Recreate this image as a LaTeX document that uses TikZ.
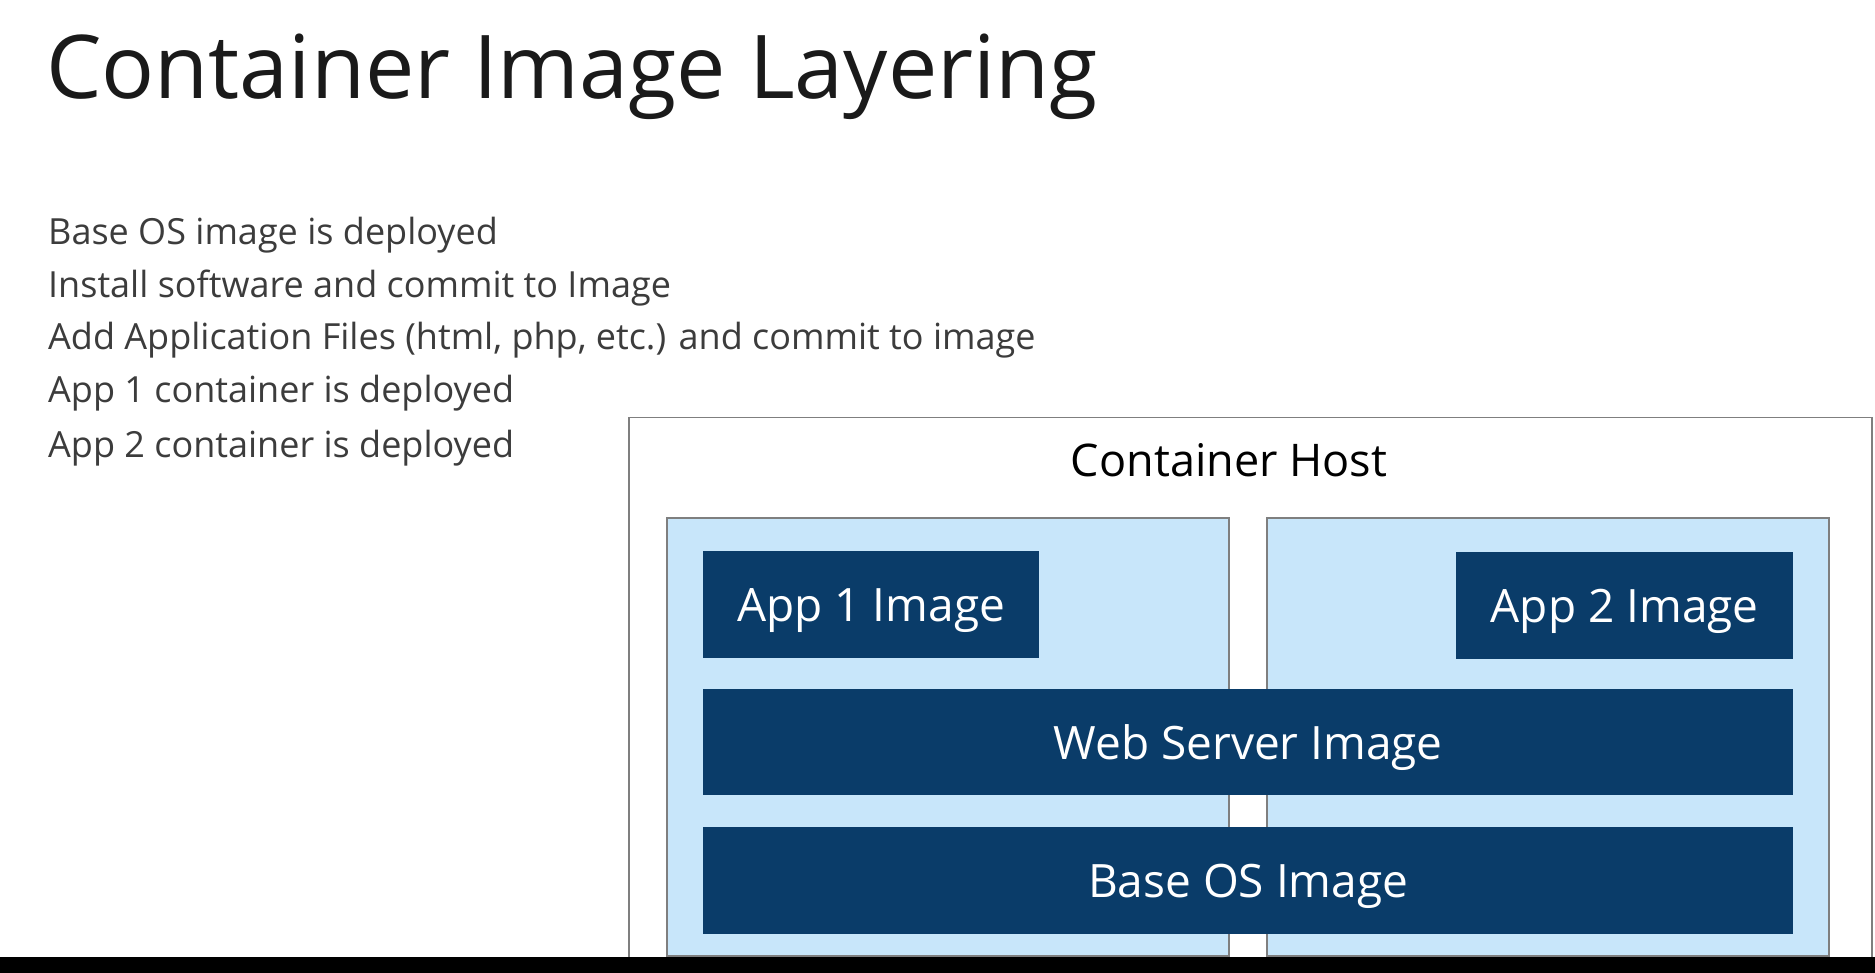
\documentclass[tikz,border=0pt]{standalone}
\usepackage{fontspec}
\setmainfont{Open Sans}
\definecolor{navy}{HTML}{0A3C69}
\definecolor{lightblue}{HTML}{C8E6FA}
\definecolor{panelborder}{HTML}{7F7F7F}
\definecolor{titlecol}{HTML}{1A1A1A}
\definecolor{bulletcol}{HTML}{3C3C3C}
\begin{document}
\begin{tikzpicture}[x=1pt,y=-1pt,
  hostbox/.style={draw=panelborder, line width=1.5pt, fill=white, anchor=north west, inner sep=0pt},
  panel/.style={draw=panelborder, line width=1.5pt, fill=lightblue, anchor=north west, inner sep=0pt},
  layer/.style={fill=navy, text=white, anchor=north west, inner sep=0pt, text depth=0pt, font=\fontsize{46}{52}\selectfont},
  bullet/.style={anchor=base west, inner sep=0pt, text=bulletcol, font=\fontsize{36}{42}\selectfont}
]
\useasboundingbox (0,0) rectangle (1875,973);
\fill[white] (0,0) rectangle (1875,973);
% title
\node[anchor=base west, inner sep=0pt, text=titlecol, font=\fontsize{88}{100}\selectfont] (title) at (46,99) {Container Image Layering};
% bullets
\node[bullet] (b1) at (48,245) {Base OS image is deployed};
\node[bullet] (b2) at (48,298) {Install software and commit to Image};
\node[bullet] (b3) at (48,350) {Add Application Files (html, php, etc.) and commit to image};
\node[bullet] (b4) at (48,403) {App 1 container is deployed};
\node[bullet] (b5) at (48,457) {App 2 container is deployed};
% container host
\node[hostbox, minimum width=1243pt, minimum height=560pt] (host) at (628,417) {};
\node[anchor=base, inner sep=0pt, text=black, font=\fontsize{45}{50}\selectfont] (hostlabel) at (1229,477) {Container Host};
% panels
\node[panel, minimum width=562pt, minimum height=438pt] (leftpanel) at (666,517) {};
\node[panel, minimum width=562pt, minimum height=438pt] (rightpanel) at (1266,517) {};
% layers
\node[layer, minimum width=336pt, minimum height=107pt] (app1) at (703,551) {App 1 Image};
\node[layer, minimum width=337pt, minimum height=107pt] (app2) at (1456,552) {App 2 Image};
\node[layer, minimum width=1090pt, minimum height=106pt] (web) at (703,689) {Web Server Image};
\node[layer, minimum width=1090pt, minimum height=107pt] (base) at (703,827) {Base OS Image};
% bottom black bar
\fill[black] (0,957) rectangle (1875,973);
\end{tikzpicture}
\end{document}
